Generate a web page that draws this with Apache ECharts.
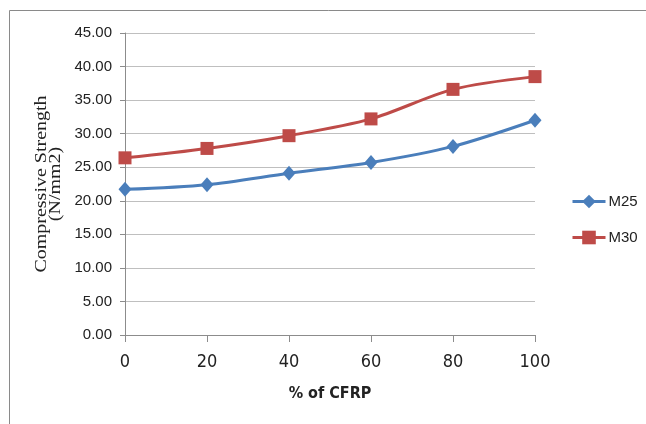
<!DOCTYPE html>
<html>
<head>
<meta charset="utf-8">
<script src="https://cdn.jsdelivr.net/npm/echarts@6/dist/echarts.min.js"></script>
<style>
  html, body { margin: 0; padding: 0; background: #ffffff; }
  #chart { width: 646px; height: 424px; }
</style>
</head>
<body>
<div id="chart"></div>
<script>
// Percentage of CFRP replacement (x axis categories)
const cfrpPercent = ['0', '20', '40', '60', '80', '100'];
// Compressive strength in N/mm2 for each concrete grade
const m25Strength = [21.7, 22.4, 24.1, 25.7, 28.1, 32.0];
const m30Strength = [26.4, 27.8, 29.7, 32.2, 36.6, 38.5];

const sansFont = '"Liberation Sans", Arial, sans-serif';
const narrowFont = '"Liberation Sans Narrow", "DejaVu Sans Condensed", sans-serif';
const gridColor = '#bfbfbf';
const axisColor = '#8c8c8c';
const blue = '#4a7ebb';
const red = '#be4b48';

const chart = echarts.init(document.getElementById('chart'), null, { renderer: 'canvas' });

chart.setOption({
  animation: false,
  backgroundColor: '#ffffff',
  graphic: [
    {
      // outer chart frame
      type: 'rect',
      shape: { x: 9.5, y: 10.5, width: 700, height: 500 },
      style: { fill: 'none', stroke: '#8a8a8a', lineWidth: 1 },
      z: -1
    },
    {
      // vertical axis title
      type: 'text',
      x: 48.5,
      y: 184,
      rotation: Math.PI / 2,
      scaleX: 1.25,
      style: {
        text: 'Compressive Strength\n(N/mm2)',
        font: '16px "Liberation Serif", "DejaVu Serif", serif',
        fill: '#222',
        align: 'center',
        verticalAlign: 'middle',
        lineHeight: 14
      }
    }
  ],
  grid: { left: 125, right: 111, top: 33, bottom: 89, containLabel: false },
  legend: {
    orient: 'vertical',
    left: 566,
    top: 189,
    itemWidth: 33,
    itemHeight: 17,
    itemGap: 21,
    lineStyle: { width: 3 },
    textStyle: { fontFamily: sansFont, fontSize: 15, color: '#222', padding: [0, 0, 0, -2] },
    data: ['M25', 'M30']
  },
  xAxis: {
    type: 'category',
    data: cfrpPercent,
    boundaryGap: false,
    name: '% of CFRP',
    nameLocation: 'middle',
    nameGap: 51,
    nameTextStyle: { fontFamily: narrowFont, fontSize: 16, fontWeight: 'bold', color: '#222' },
    axisLine: { lineStyle: { color: axisColor, width: 1 } },
    axisTick: { show: true, length: 7, alignWithLabel: true, lineStyle: { color: axisColor } },
    axisLabel: { fontFamily: narrowFont, fontSize: 18, color: '#222', margin: 18 },
    splitLine: { show: false }
  },
  yAxis: {
    type: 'value',
    min: 0,
    max: 45,
    interval: 5,
    axisLine: { show: true, lineStyle: { color: axisColor, width: 1 } },
    axisTick: { show: true, length: 5, lineStyle: { color: axisColor } },
    axisLabel: {
      fontFamily: sansFont, fontSize: 15, color: '#222', margin: 13,
      formatter: v => v.toFixed(2)
    },
    splitLine: { lineStyle: { color: gridColor, width: 1 } }
  },
  series: [
    {
      name: 'M25',
      type: 'line',
      data: m25Strength,
      smooth: 0.3,
      symbol: 'diamond',
      symbolSize: [13, 15],
      lineStyle: { color: blue, width: 3 },
      itemStyle: { color: blue }
    },
    {
      name: 'M30',
      type: 'line',
      data: m30Strength,
      smooth: 0.3,
      symbol: 'rect',
      symbolSize: 13,
      lineStyle: { color: red, width: 3 },
      itemStyle: { color: red }
    }
  ]
});
</script>
</body>
</html>
